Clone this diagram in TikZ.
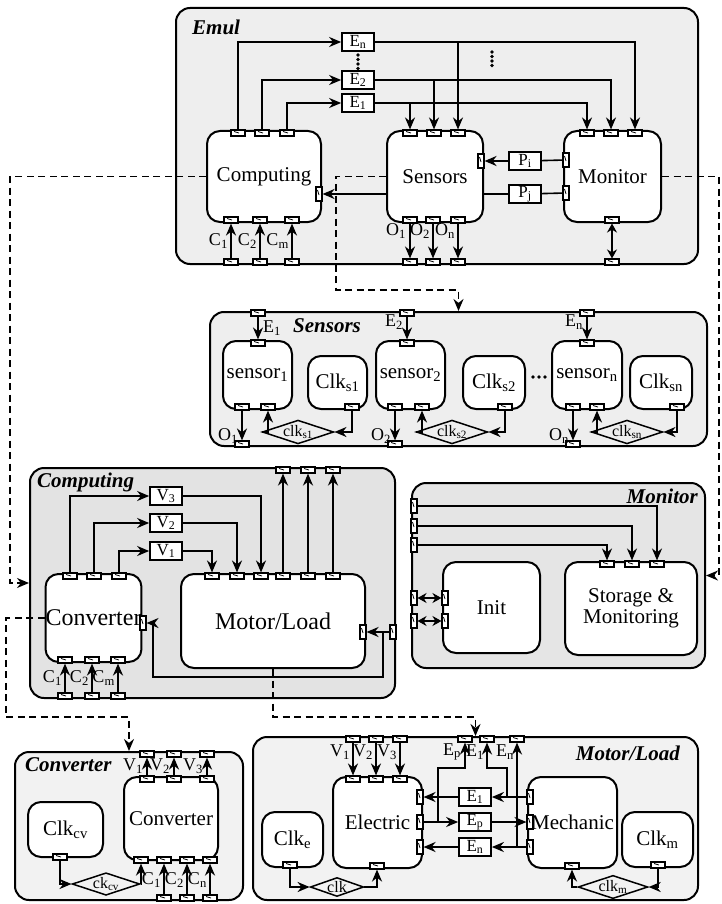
\documentclass[tikz,border=0pt]{standalone}
\usepackage{fontspec}
\setmainfont{Liberation Serif}
\usetikzlibrary{arrows.meta,shapes.geometric}
\newcommand{\fsz}[1]{\fontsize{#1}{#1}\selectfont}
\tikzset{
  panel/.style 2 args={draw,line width=2pt,rounded corners=14pt,minimum width=#1,minimum height=#2,inner sep=0pt},
  blk/.style 2 args={draw,fill=white,line width=2pt,rounded corners=13pt,minimum width=#1,minimum height=#2,inner sep=0pt,font=\fsz{21}},
  ebox/.style={draw,fill=white,line width=1.7pt,minimum width=32pt,minimum height=18pt,inner sep=0pt,font=\fsz{17}},
  hp/.style={draw,fill=white,line width=1.1pt,minimum width=14pt,minimum height=6pt,inner sep=0pt,
    path picture={\draw[line width=0.8pt] ([xshift=3pt,yshift=-1.5pt]path picture bounding box.north west) -- ++(5pt,-1.5pt);}},
  vp/.style={draw,fill=white,line width=1.1pt,minimum width=6pt,minimum height=14pt,inner sep=0pt,
    path picture={\draw[line width=0.8pt] ([xshift=1.5pt,yshift=-3pt]path picture bounding box.north west) -- ++(1.5pt,-5pt);}},
  clkd/.style={draw,diamond,aspect=3,line width=1.5pt,inner sep=0pt,font=\fsz{16}},
  arr/.style={line width=2pt,-{Stealth[length=12pt,width=10pt]}},
  darr/.style={line width=2pt,{Stealth[length=9pt,width=10pt]}-{Stealth[length=9pt,width=10pt]}},
  ln/.style={line width=1.6pt},
  dsh/.style={line width=1.8pt,dash pattern=on 7pt off 4.5pt},
  ttl/.style={font=\fsz{21}\bfseries\itshape,inner sep=0pt},
  lbl/.style={font=\fsz{18},inner sep=0pt}
}

\begin{document}
\begin{tikzpicture}[x=1pt,y=-1pt]
\useasboundingbox (0,0) rectangle (721,904);
% panels
\node[panel={522pt}{256pt},fill=gray!13] (emul) at (437,136) {};
\node[panel={497pt}{134pt},fill=gray!13] (sens) at (458.5,379) {};
\node[panel={365pt}{230pt},fill=gray!22] (comp) at (212.5,583) {};
\node[panel={293pt}{185pt},fill=gray!20] (mon) at (558.5,575.5) {};
\node[panel={228pt}{148pt},fill=gray!10] (conv) at (129,826) {};
\node[panel={445pt}{163pt},fill=gray!10] (motl) at (475.5,818.5) {};
\node[ttl,anchor=west] (temul) at (192,27) {Emul};
\node[ttl] (tsens) at (327,326) {Sensors};
\node[ttl,anchor=west] (tcomp) at (37,482) {Computing};
\node[ttl,anchor=east] (tmon) at (698,496) {Monitor};
\node[ttl,anchor=west] (tconv) at (25,765) {Converter};
\node[ttl,anchor=east] (tmotl) at (680,753) {Motor/Load};

% Emul
\node[blk={114pt}{91pt}] (ecomp) at (264,176.5) {Computing};
\node[blk={96pt}{91pt}] (esens) at (435,176.5) {Sensors};
\node[blk={97pt}{91pt}] (emon) at (612.5,176.5) {Monitor};
\node[ebox] (en) at (358,42) {E\textsubscript{n}};
\node[ebox] (e2) at (358,80) {E\textsubscript{2}};
\node[ebox] (e1) at (358,103) {E\textsubscript{1}};
\node[ebox] (pi) at (525,161) {P\textsubscript{i}};
\node[ebox] (pj) at (525,194) {P\textsubscript{j}};
\node[hp] (pc1) at (238,133) {};
\node[hp] (pc2) at (262,133) {};
\node[hp] (pc3) at (287,133) {};
\node[hp] (ps1) at (410,133) {};
\node[hp] (ps2) at (434,133) {};
\node[hp] (ps3) at (458,133) {};
\node[hp] (pm1) at (587,133) {};
\node[hp] (pm2) at (611,133) {};
\node[hp] (pm3) at (635,133) {};
\node[vp] (pmi) at (566,160) {};
\node[vp] (pmj) at (566,193) {};
\node[vp] (psi) at (481,161) {};
\node[vp] (pcj) at (319,194) {};
\node[hp] (pcb1) at (231,220) {};
\node[hp] (pcb2) at (260,220) {};
\node[hp] (pcb3) at (292,220) {};
\node[hp] (qc1) at (231,262) {};
\node[hp] (qc2) at (260,262) {};
\node[hp] (qc3) at (292,262) {};
\node[hp] (psb1) at (410,220) {};
\node[hp] (psb2) at (433,220) {};
\node[hp] (psb3) at (458,220) {};
\node[hp] (qs1) at (410,262) {};
\node[hp] (qs2) at (433,262) {};
\node[hp] (qs3) at (458,262) {};
\node[hp] (pmb) at (612,220) {};
\node[hp] (qm) at (612,262) {};
\fill (358,55) circle (1.8) (358,59.5) circle (1.8) (358,64) circle (1.8) (358,68.5) circle (1.8);
\fill (492,52) circle (1.8) (492,56.5) circle (1.8) (492,61) circle (1.8) (492,65.5) circle (1.8);
\draw[arr] (pc1) |- (en);
\draw[arr] (pc2) |- (e2);
\draw[arr] (pc3) |- (e1);
\draw[arr] (en) -| (ps3);
\draw[arr] (en) -| (pm3);
\draw[arr] (e2) -| (ps2);
\draw[arr] (e2) -| (pm2);
\draw[arr] (e1) -| (ps1);
\draw[arr] (e1) -| (pm1);
\draw[ln] (pmi) -- (pi);
\draw[arr] (pi) -- (psi);
\draw[ln] (pmj) -- (pj);
\draw[ln] (pj) -- (esens.east |- pj);
\draw[arr] (esens.west |- pj) -- (pcj);
\draw[arr] (qc1) -- (pcb1);
\draw[arr] (qc2) -- (pcb2);
\draw[arr] (qc3) -- (pcb3);
\draw[arr] (psb1) -- (qs1);
\draw[arr] (psb2) -- (qs2);
\draw[arr] (psb3) -- (qs3);
\draw[darr] (pmb) -- (qm);
\node[lbl,anchor=east] (lc1) at (228,241) {C\textsubscript{1}};
\node[lbl,anchor=east] (lc2) at (257,241) {C\textsubscript{2}};
\node[lbl,anchor=east] (lc3) at (289,241) {C\textsubscript{m}};
\node[lbl,anchor=east] (lo1) at (406,231) {O\textsubscript{1}};
\node[lbl,anchor=east] (lo2) at (430,231) {O\textsubscript{2}};
\node[lbl,anchor=east] (lo3) at (455,231) {O\textsubscript{n}};

% Sensors
\node[blk={69pt}{68pt}] (s1) at (257.5,375) {sensor\textsubscript{1}};
\node[blk={59pt}{53pt}] (cs1) at (337.5,382.5) {Clk\textsubscript{s1}};
\node[blk={69pt}{68pt}] (s2) at (410.5,375) {sensor\textsubscript{2}};
\node[blk={62pt}{53pt}] (cs2) at (494,382.5) {Clk\textsubscript{s2}};
\node[blk={70pt}{68pt}] (sn) at (587,375) {sensor\textsubscript{n}};
\node[blk={62pt}{53pt}] (csn) at (661,382.5) {Clk\textsubscript{sn}};
\fill (533,377) circle (1.8) (539,377) circle (1.8) (545,377) circle (1.8);
\node[hp] (qe1) at (258,313) {};
\node[hp] (qe2) at (407,313) {};
\node[hp] (qen) at (587,313) {};
\node[hp] (se1) at (258,343) {};
\node[hp] (se2) at (407,343) {};
\node[hp] (sen) at (587,343) {};
\node[hp] (so1) at (242,407) {};
\node[hp] (sk1) at (268,407) {};
\node[hp] (ck1) at (352,407) {};
\node[hp] (so2) at (395,407) {};
\node[hp] (sk2) at (422,407) {};
\node[hp] (ck2) at (505,407) {};
\node[hp] (son) at (573,407) {};
\node[hp] (skn) at (597,407) {};
\node[hp] (ckn) at (677,407) {};
\node[hp] (qo1) at (242,444) {};
\node[hp] (qo2) at (395,444) {};
\node[hp] (qon) at (573,444) {};
\node[clkd,minimum width=53pt,minimum height=19pt] (dk1) at (298,432) {clk\textsubscript{s1}};
\node[clkd,minimum width=53pt,minimum height=19pt] (dk2) at (452,432) {clk\textsubscript{s2}};
\node[clkd,minimum width=53pt,minimum height=19pt] (dkn) at (627,432) {clk\textsubscript{sn}};
\draw[arr] (qe1) -- (se1);
\draw[arr] (qe2) -- (se2);
\draw[arr] (qen) -- (sen);
\draw[arr] (so1) -- (qo1);
\draw[arr] (so2) -- (qo2);
\draw[arr] (son) -- (qon);
\draw[arr] (ck1) |- (dk1);
\draw[arr] (dk1) -| (sk1);
\draw[arr] (ck2) |- (dk2);
\draw[arr] (dk2) -| (sk2);
\draw[arr] (ckn) |- (dkn);
\draw[arr] (dkn) -| (skn);
\node[lbl,anchor=west] (le1) at (263,328) {E\textsubscript{1}};
\node[lbl,anchor=east] (le2) at (403,322) {E\textsubscript{2}};
\node[lbl,anchor=east] (len) at (583,322) {E\textsubscript{n}};
\node[lbl,anchor=east] (lso1) at (238,436) {O\textsubscript{1}};
\node[lbl,anchor=east] (lso2) at (391,436) {O\textsubscript{2}};
\node[lbl,anchor=east] (lson) at (569,436) {O\textsubscript{n}};

% Computing
\node[blk={95pt}{88pt},font=\fsz{24}] (cconv) at (93.5,618) {Converter};
\node[blk={184pt}{94pt},font=\fsz{24}] (cmot) at (273,621) {Motor/Load};
\node[ebox] (v3) at (166,496) {V\textsubscript{3}};
\node[ebox] (v2) at (166,523) {V\textsubscript{2}};
\node[ebox] (v1) at (166,551) {V\textsubscript{1}};
\node[hp] (pv3) at (70,576) {};
\node[hp] (pv2) at (94,576) {};
\node[hp] (pv1) at (119,576) {};
\node[hp] (mv1) at (212,576) {};
\node[hp] (mv2) at (237,576) {};
\node[hp] (mv3) at (261,576) {};
\node[hp] (mo1) at (283,576) {};
\node[hp] (mo2) at (308,576) {};
\node[hp] (mo3) at (333,576) {};
\node[hp] (qco1) at (283,470) {};
\node[hp] (qco2) at (308,470) {};
\node[hp] (qco3) at (333,470) {};
\node[vp] (pcr) at (143,623) {};
\node[vp] (pmr) at (363,632) {};
\node[vp] (qcr) at (393,632) {};
\node[hp] (pcc1) at (65,660) {};
\node[hp] (pcc2) at (92,660) {};
\node[hp] (pcc3) at (118,660) {};
\node[hp] (qcc1) at (65,696) {};
\node[hp] (qcc2) at (92,696) {};
\node[hp] (qcc3) at (118,696) {};
\coordinate (fb1) at (383,677);
\coordinate (fb2) at (153,677);
\draw[arr] (pv3) |- (v3);
\draw[arr] (pv2) |- (v2);
\draw[arr] (pv1) |- (v1);
\draw[arr] (v1) -| (mv1);
\draw[arr] (v2) -| (mv2);
\draw[arr] (v3) -| (mv3);
\draw[arr] (mo1) -- (qco1);
\draw[arr] (mo2) -- (qco2);
\draw[arr] (mo3) -- (qco3);
\draw[arr] (qcr) -- (pmr);
\draw[arr] (qcr.west -| fb1) -- (fb1) -- (fb2) |- (pcr);
\draw[arr] (qcc1) -- (pcc1);
\draw[arr] (qcc2) -- (pcc2);
\draw[arr] (qcc3) -- (pcc3);
\node[lbl,anchor=east] (lcc1) at (62,678) {C\textsubscript{1}};
\node[lbl,anchor=east] (lcc2) at (89,678) {C\textsubscript{2}};
\node[lbl,anchor=east] (lcc3) at (115,678) {C\textsubscript{m}};

% Monitor
\node[blk={97pt}{91pt}] (minit) at (491.5,607.5) {Init};
\node[blk={132pt}{93pt},align=center] (mstor) at (631,608.5) {Storage \&\\Monitoring};
\node[vp] (ql1) at (414,506) {};
\node[vp] (ql2) at (414,526) {};
\node[vp] (ql3) at (414,545) {};
\node[hp] (st1) at (607,564) {};
\node[hp] (st2) at (632,564) {};
\node[hp] (st3) at (657,564) {};
\node[vp] (qi1) at (414,598) {};
\node[vp] (qi2) at (414,621) {};
\node[vp] (ii1) at (445,598) {};
\node[vp] (ii2) at (445,621) {};
\draw[arr] (ql1) -| (st3);
\draw[arr] (ql2) -| (st2);
\draw[arr] (ql3) -| (st1);
\draw[darr] (qi1) -- (ii1);
\draw[darr] (qi2) -- (ii2);

% Converter
\node[blk={75pt}{55pt}] (vclk) at (65.5,829.5) {Clk\textsubscript{cv}};
\node[blk={94pt}{83pt}] (vconv) at (171,818.5) {Converter};
\node[hp] (qv1) at (147,754) {};
\node[hp] (qv2) at (174,754) {};
\node[hp] (qv3) at (207,754) {};
\node[hp] (cv1) at (147,779) {};
\node[hp] (cv2) at (174,779) {};
\node[hp] (cv3) at (207,779) {};
\node[hp] (ckv) at (60,857) {};
\node[hp] (cb0) at (141,860) {};
\node[hp] (cb1) at (164,860) {};
\node[hp] (cb2) at (187,860) {};
\node[hp] (cb3) at (210,860) {};
\node[hp] (qb1) at (164,898) {};
\node[hp] (qb2) at (187,898) {};
\node[hp] (qb3) at (210,898) {};
\node[clkd,minimum width=48pt,minimum height=19pt] (dv) at (106,884) {ck\textsubscript{cv}};
\draw[arr] (cv1) -- (qv1);
\draw[arr] (cv2) -- (qv2);
\draw[arr] (cv3) -- (qv3);
\draw[arr] (ckv) |- (dv);
\draw[arr] (dv) -| (cb0);
\draw[arr] (qb1) -- (cb1);
\draw[arr] (qb2) -- (cb2);
\draw[arr] (qb3) -- (cb3);
\node[lbl,anchor=east] (lv1) at (143,766) {V\textsubscript{1}};
\node[lbl,anchor=east] (lv2) at (170,766) {V\textsubscript{2}};
\node[lbl,anchor=east] (lv3) at (203,766) {V\textsubscript{3}};
\node[lbl,anchor=east] (lb1) at (161,880) {C\textsubscript{1}};
\node[lbl,anchor=east] (lb2) at (184,880) {C\textsubscript{2}};
\node[lbl,anchor=east] (lb3) at (207,880) {C\textsubscript{n}};

% Motor/Load
\node[blk={61pt}{55pt}] (lclke) at (292.5,839.5) {Clk\textsubscript{e}};
\node[blk={89pt}{91pt}] (lelec) at (377.5,822.5) {Electric};
\node[blk={89pt}{91pt}] (lmech) at (572.5,822.5) {Mechanic};
\node[blk={71pt}{55pt}] (lclkm) at (657.5,839.5) {Clk\textsubscript{m}};
\node[ebox] (b1) at (475,797) {E\textsubscript{1}};
\node[ebox] (bp) at (475,822) {E\textsubscript{p}};
\node[ebox] (bn) at (475,847) {E\textsubscript{n}};
\node[hp] (qlv1) at (353,739) {};
\node[hp] (qlv2) at (376,739) {};
\node[hp] (qlv3) at (400,739) {};
\node[hp] (ev1) at (353,779) {};
\node[hp] (ev2) at (376,779) {};
\node[hp] (ev3) at (400,779) {};
\node[hp] (qep) at (465,739) {};
\node[hp] (qe1m) at (487,739) {};
\node[hp] (qenm) at (517,739) {};
\node[vp] (er1) at (420,797) {};
\node[vp] (erp) at (420,822) {};
\node[vp] (ern) at (420,847) {};
\node[vp] (ml1) at (530,797) {};
\node[vp] (mlp) at (530,822) {};
\node[vp] (mln) at (530,847) {};
\node[hp] (ce) at (290,865) {};
\node[hp] (eb) at (377,866) {};
\node[hp] (mb) at (572,866) {};
\node[hp] (cm) at (658,865) {};
\node[clkd,minimum width=42pt,minimum height=19pt] (dc) at (337,887) {clk};
\node[clkd,minimum width=50pt,minimum height=19pt] (dm) at (613,887) {clk\textsubscript{m}};
\coordinate (jp) at (438,822);
\coordinate (jp2) at (438,768);
\coordinate (j1) at (507,797);
\coordinate (j1b) at (507,768);
\coordinate (jn) at (517,847);
\draw[arr] (qlv1) -- (ev1);
\draw[arr] (qlv2) -- (ev2);
\draw[arr] (qlv3) -- (ev3);
\draw[arr] (ml1) -- (b1);
\draw[arr] (b1) -- (er1);
\draw[arr] (erp) -- (bp);
\draw[arr] (bp) -- (mlp);
\draw[arr] (mln) -- (bn);
\draw[arr] (bn) -- (ern);
\draw[arr] (jp) -- (jp2) -| (qep);
\draw[arr] (j1) -- (j1b) -| (qe1m);
\draw[arr] (jn) -- (qenm);
\draw[arr] (ce) |- (dc);
\draw[arr] (dc) -| (eb);
\draw[arr] (cm) |- (dm);
\draw[arr] (dm) -| (mb);
\node[lbl,anchor=east] (llv1) at (350,752) {V\textsubscript{1}};
\node[lbl,anchor=east] (llv2) at (373,752) {V\textsubscript{2}};
\node[lbl,anchor=east] (llv3) at (397,752) {V\textsubscript{3}};
\node[lbl,anchor=east] (lep) at (461,752) {E\textsubscript{p}};
\node[lbl,anchor=east] (le1m) at (484,752) {E\textsubscript{1}};
\node[lbl,anchor=east] (lenm) at (514,752) {E\textsubscript{n}};

% dashed links between levels
\coordinate (d1) at (336,290);
\coordinate (d2) at (10,176.5);
\coordinate (d3) at (719,176.5);
\coordinate (d4) at (6,717);
\coordinate (d5) at (273,717);
\draw[dsh,-{Stealth[length=12pt,width=10pt]}] (esens.west) -| (d1) -| (sens.north);
\draw[dsh,-{Stealth[length=12pt,width=10pt]}] (ecomp.west) -- (d2) |- (comp.west);
\draw[dsh,-{Stealth[length=12pt,width=10pt]}] (emon.east) -- (d3) |- (mon.east);
\draw[dsh,-{Stealth[length=12pt,width=10pt]}] (cconv.west) -| (d4) -| (conv.north);
\draw[dsh,-{Stealth[length=12pt,width=10pt]}] (cmot.south) -- (d5) -| (motl.north);
\end{tikzpicture}
\end{document}
